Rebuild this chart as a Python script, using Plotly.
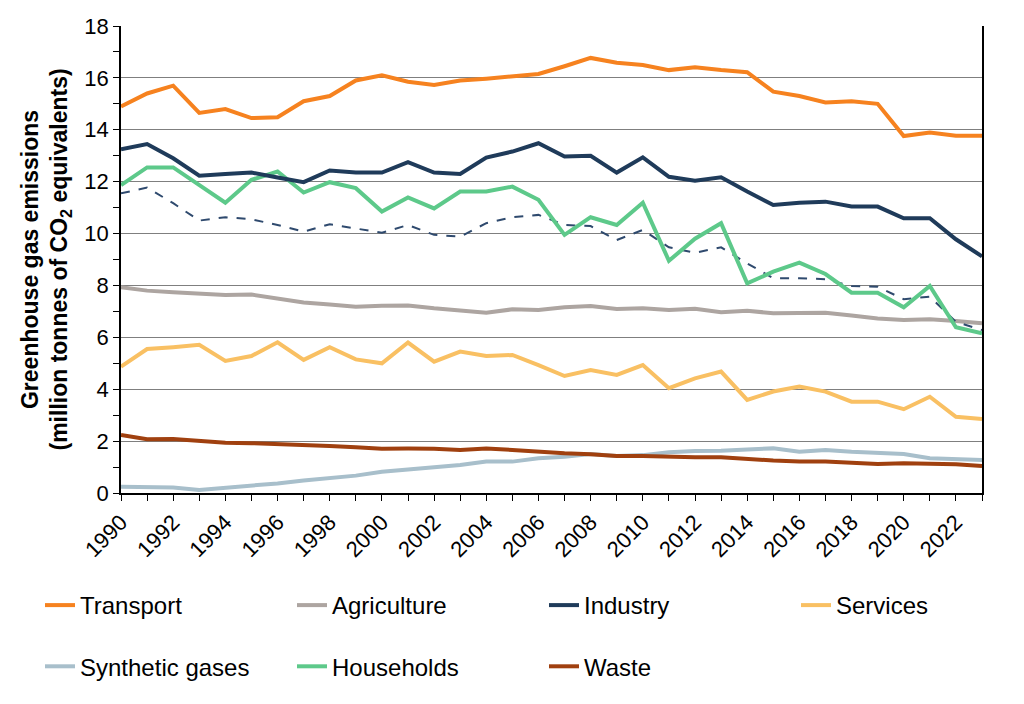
import plotly.graph_objects as go

years = list(range(1990, 2024))

transport = [14.9, 15.4, 15.7, 14.65, 14.8, 14.45, 14.48, 15.1, 15.3, 15.9, 16.1, 15.85, 15.73, 15.9, 15.97,
             16.07, 16.15, 16.45, 16.77, 16.58, 16.5, 16.3, 16.41, 16.3, 16.22, 15.47, 15.3, 15.05, 15.1, 15.0,
             13.76, 13.89, 13.77, 13.77]
agriculture = [7.93, 7.8, 7.74, 7.67, 7.63, 7.65, 7.5, 7.34, 7.27, 7.18, 7.22, 7.23, 7.12, 7.02, 6.95,
               7.08, 7.05, 7.16, 7.21, 7.09, 7.12, 7.05, 7.1, 6.97, 7.02, 6.93, 6.95, 6.95, 6.84, 6.73,
               6.67, 6.7, 6.63, 6.54]
industry = [13.25, 13.45, 12.9, 12.23, 12.3, 12.35, 12.16, 11.98, 12.43, 12.35, 12.35, 12.75, 12.35, 12.3, 12.93,
            13.16, 13.48, 12.97, 13.0, 12.35, 12.94, 12.19, 12.04, 12.17, 11.62, 11.1, 11.19, 11.23, 11.04, 11.04,
            10.59, 10.59, 9.78, 9.12]
services = [4.87, 5.55, 5.62, 5.71, 5.09, 5.28, 5.81, 5.13, 5.62, 5.15, 5.0, 5.8, 5.06, 5.45, 5.28,
            5.32, 4.93, 4.51, 4.74, 4.55, 4.93, 4.04, 4.42, 4.68, 3.59, 3.91, 4.1, 3.91, 3.52, 3.52,
            3.23, 3.71, 2.94, 2.85]
synthetic = [0.24, 0.22, 0.21, 0.12, 0.2, 0.31, 0.37, 0.48, 0.57, 0.67, 0.82, 0.9, 0.99, 1.08, 1.21,
             1.21, 1.34, 1.4, 1.5, 1.43, 1.46, 1.57, 1.62, 1.63, 1.68, 1.72, 1.59, 1.66, 1.59, 1.53,
             1.5, 1.34, 1.3, 1.27]
households = [11.87, 12.55, 12.55, 11.87, 11.19, 12.07, 12.39, 11.58, 11.98, 11.75, 10.85, 11.39, 10.97, 11.62, 11.62,
              11.81, 11.3, 9.95, 10.63, 10.33, 11.19, 8.95, 9.8, 10.4, 8.08, 8.53, 8.88, 8.44, 7.72, 7.72,
              7.16, 7.98, 6.39, 6.16]
households_adj = [11.55, 11.77, 11.17, 10.5, 10.63, 10.55, 10.33, 10.07, 10.36, 10.2, 10.03, 10.33, 9.95, 9.88, 10.4,
                  10.63, 10.72, 10.33, 10.29, 9.75, 10.14, 9.47, 9.26, 9.47, 8.85, 8.28, 8.28, 8.24, 7.98, 7.95,
                  7.47, 7.57, 6.6, 6.28]
waste = [2.24, 2.07, 2.08, 2.0, 1.94, 1.92, 1.89, 1.85, 1.81, 1.76, 1.71, 1.72, 1.71, 1.66, 1.72,
         1.66, 1.59, 1.53, 1.49, 1.43, 1.43, 1.4, 1.38, 1.38, 1.3, 1.25, 1.21, 1.21, 1.17, 1.12,
         1.15, 1.12, 1.11, 1.04]

Y_TITLE = "<b>Greenhouse gas emissions<br>(million tonnes of CO<sub>2</sub> equivalents)</b>"

FONT = "Liberation Sans, Arial, sans-serif"
W, H = 1016, 696  # page adds an 8px body margin

fig = go.Figure()


def add(name, vals, col, legend=None, rank=None, width=4, dash=None):
    fig.add_trace(go.Scatter(
        x=years, y=vals, name=name, mode="lines",
        legendgroup=name, showlegend=legend is not None,
        legend=legend or "legend", legendrank=rank or 1000,
        line=dict(color=col, width=width, dash=dash)))


# legend columns: legend (col 1) ... legend4 (col 4)
add("Synthetic gases", synthetic, "#A8BFCB", "legend", 2)
add("Waste", waste, "#A0400F", "legend3", 2)
add("Services", services, "#F9C063", "legend4", 1)
add("Agriculture", agriculture, "#ADA5A1", "legend2", 1)
add(None, households_adj, "#2F4A6E", width=2, dash="dash")
add("Households", households, "#5DC98A", "legend2", 2)
add("Industry", industry, "#1F3B5A", "legend3", 1)
add("Transport", transport, "#F6821F", "legend", 1)

text_x = [80, 332, 584, 836]
row1_top = 599 - 8 - 16
legend_common = dict(orientation="v", xref="container", yref="container",
                     xanchor="left", yanchor="top", traceorder="grouped", tracegroupgap=27,
                     font=dict(family=FONT, size=24, color="black"),
                     bgcolor="rgba(0,0,0,0)", borderwidth=0)
layout_legends = {}
for i, tx in enumerate(text_x):
    key = "legend" if i == 0 else f"legend{i + 1}"
    layout_legends[key] = dict(legend_common, x=(tx - 40 - 8) / W, y=1 - row1_top / H)

fig.update_layout(
    width=W, height=H,
    paper_bgcolor="white", plot_bgcolor="white",
    margin=dict(l=113, r=W - 974, t=18, b=H - 485, autoexpand=False),
    font=dict(family=FONT, size=22, color="black"),
    showlegend=True,
    annotations=[dict(text=Y_TITLE, textangle=-90, showarrow=False,
                      xref="paper", yref="paper", x=(46 - 121) / 861, y=0.5,
                      xanchor="center", yanchor="middle", align="center",
                      font=dict(family=FONT, size=23, color="black"))],
    **layout_legends,
)

fig.update_xaxes(range=[1990, 2023], tickmode="linear", tick0=1990, dtick=2,
                 tickangle=-45, ticks="outside", ticklen=6, tickcolor="black",
                 showline=True, linecolor="black", linewidth=1.5,
                 showgrid=False, zeroline=False,
                 minor=dict(dtick=1, tick0=1990, ticks="outside", ticklen=6, tickcolor="black",
                            showgrid=False),
                 tickfont=dict(family=FONT, size=22, color="black"))
fig.update_yaxes(range=[0, 18], tickmode="linear", tick0=0, dtick=2,
                 ticks="outside", ticklen=6, tickcolor="black",
                 showline=True, linecolor="black", linewidth=1.5, mirror=True,
                 showgrid=True, gridcolor="#7F7F7F", gridwidth=1, zeroline=False,
                 minor=dict(dtick=1, ticks="outside", ticklen=6, tickcolor="black", showgrid=False),
                 tickfont=dict(family=FONT, size=22, color="black"))

fig.write_html("out.html")
